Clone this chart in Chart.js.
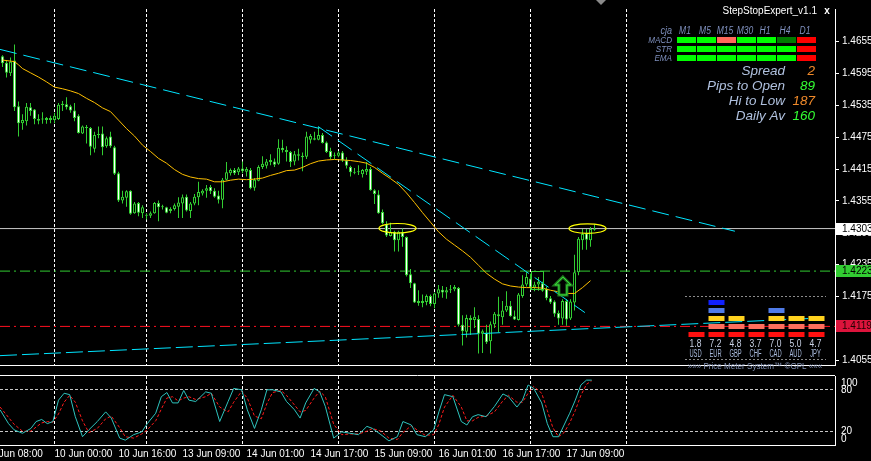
<!DOCTYPE html>
<html><head><meta charset="utf-8">
<script src="https://cdn.jsdelivr.net/npm/chart.js@4.4.1/dist/chart.umd.min.js"></script>
<style>
html,body{margin:0;padding:0;background:#000;overflow:hidden;}
#wrap{position:relative;width:871px;height:461px;background:#000;}
#main{position:absolute;left:0;top:0;}
#osc{position:absolute;left:0;top:374px;}
</style></head><body>
<div id="wrap">
<canvas id="main" width="871" height="374"></canvas>
<canvas id="osc" width="871" height="87"></canvas>
</div>
<script>
// ---------- DATA ----------
const opens = [1.4627,1.4615,1.4595,1.4619,1.4533,1.4501,1.4505,1.4531,1.4527,1.4509,1.4509,1.4507,1.4507,1.4507,1.4509,1.4538,1.4537,1.4533,1.4525,1.4515,
1.4482,1.4494,1.4492,1.4453,1.4479,1.4482,1.4458,1.4476,1.4456,1.4407,1.4356,1.4361,1.4374,1.4332,1.4351,1.4332,1.4328,1.4327,1.4332,1.4351,
1.4345,1.4343,1.4336,1.4340,1.4344,1.4350,1.4363,1.4336,1.4350,1.4362,1.4369,1.4374,1.4381,1.4374,1.4365,1.4357,1.4395,1.4407,1.4413,1.4409,
1.4416,1.4410,1.4413,1.4380,1.4393,1.4419,1.4421,1.4428,1.4429,1.4425,1.4455,1.4451,1.4447,1.4429,1.4443,1.4440,1.4438,1.4470,1.4473,1.4470,
1.4479,1.4465,1.4449,1.4442,1.4440,1.4446,1.4431,1.4419,1.4410,1.4409,1.4405,1.4410,1.4415,1.4375,1.4367,1.4334,1.4311,1.4289,1.4297,1.4281,
1.4296,1.4287,1.4217,1.4200,1.4163,1.4167,1.4165,1.4176,1.4161,1.4181,1.4188,1.4183,1.4187,1.4189,1.4191,1.4122,1.4109,1.4135,1.4131,1.4133,
1.4105,1.4107,1.4091,1.4123,1.4142,1.4136,1.4149,1.4158,1.4138,1.4131,1.4176,1.4198,1.4209,1.4192,1.4198,1.4200,1.4190,1.4172,1.4166,1.4144,
1.4134,1.4167,1.4134,1.4164,1.4221,1.4281,1.4294,1.4281,1.4301];
const highs = [1.4629,1.4620,1.4625,1.4649,1.4542,1.4518,1.4539,1.4539,1.4528,1.4518,1.4522,1.4513,1.4515,1.4521,1.4539,1.4543,1.4550,1.4536,1.4539,1.4518,
1.4497,1.4498,1.4494,1.4485,1.4495,1.4495,1.4476,1.4485,1.4459,1.4410,1.4374,1.4375,1.4375,1.4353,1.4353,1.4347,1.4332,1.4335,1.4353,1.4356,
1.4348,1.4344,1.4343,1.4350,1.4362,1.4367,1.4367,1.4353,1.4368,1.4391,1.4377,1.4385,1.4385,1.4379,1.4374,1.4398,1.4428,1.4416,1.4417,1.4419,
1.4429,1.4419,1.4417,1.4398,1.4422,1.4439,1.4434,1.4443,1.4435,1.4471,1.4470,1.4458,1.4449,1.4449,1.4453,1.4446,1.4485,1.4481,1.4485,1.4494,
1.4483,1.4467,1.4455,1.4446,1.4449,1.4449,1.4437,1.4421,1.4417,1.4422,1.4415,1.4428,1.4419,1.4377,1.4375,1.4339,1.4317,1.4314,1.4299,1.4299,
1.4303,1.4288,1.4227,1.4201,1.4187,1.4179,1.4179,1.4179,1.4183,1.4197,1.4195,1.4193,1.4197,1.4197,1.4193,1.4140,1.4141,1.4140,1.4155,1.4140,
1.4113,1.4122,1.4128,1.4146,1.4175,1.4167,1.4185,1.4167,1.4149,1.4182,1.4215,1.4221,1.4218,1.4203,1.4212,1.4203,1.4194,1.4176,1.4168,1.4149,
1.4170,1.4170,1.4170,1.4254,1.4287,1.4302,1.4302,1.4306,1.4311];
const lows = [1.4607,1.4587,1.4590,1.4524,1.4476,1.4489,1.4497,1.4515,1.4499,1.4499,1.4500,1.4500,1.4501,1.4501,1.4507,1.4524,1.4527,1.4521,1.4505,1.4482,
1.4481,1.4463,1.4441,1.4446,1.4473,1.4441,1.4455,1.4455,1.4404,1.4353,1.4350,1.4344,1.4329,1.4331,1.4326,1.4323,1.4320,1.4323,1.4331,1.4317,
1.4339,1.4332,1.4332,1.4337,1.4323,1.4323,1.4335,1.4323,1.4347,1.4347,1.4365,1.4361,1.4368,1.4361,1.4350,1.4341,1.4394,1.4403,1.4404,1.4404,
1.4407,1.4401,1.4377,1.4374,1.4392,1.4415,1.4416,1.4422,1.4419,1.4423,1.4446,1.4429,1.4419,1.4422,1.4431,1.4411,1.4434,1.4463,1.4469,1.4469,
1.4463,1.4445,1.4434,1.4434,1.4437,1.4428,1.4416,1.4401,1.4405,1.4404,1.4399,1.4404,1.4374,1.4349,1.4331,1.4311,1.4287,1.4288,1.4260,1.4260,
1.4269,1.4213,1.4191,1.4163,1.4158,1.4155,1.4159,1.4157,1.4153,1.4173,1.4173,1.4171,1.4182,1.4185,1.4119,1.4083,1.4098,1.4103,1.4116,1.4068,
1.4069,1.4086,1.4068,1.4116,1.4108,1.4122,1.4146,1.4137,1.4131,1.4130,1.4173,1.4194,1.4188,1.4185,1.4186,1.4184,1.4168,1.4161,1.4137,1.4122,
1.4122,1.4120,1.4131,1.4149,1.4215,1.4263,1.4263,1.4269,1.4299];
const closes = [1.4614,1.4596,1.4617,1.4531,1.4501,1.4507,1.4532,1.4524,1.4509,1.4506,1.4508,1.4511,1.4511,1.4515,1.4536,1.4535,1.4531,1.4525,1.4511,1.4483,
1.4495,1.4492,1.4457,1.4479,1.4481,1.4456,1.4473,1.4458,1.4406,1.4356,1.4363,1.4373,1.4331,1.4350,1.4333,1.4343,1.4327,1.4332,1.4351,1.4343,
1.4343,1.4333,1.4340,1.4347,1.4352,1.4362,1.4337,1.4350,1.4363,1.4372,1.4374,1.4379,1.4373,1.4363,1.4357,1.4395,1.4409,1.4413,1.4407,1.4416,
1.4411,1.4415,1.4379,1.4395,1.4419,1.4425,1.4429,1.4432,1.4423,1.4455,1.4451,1.4447,1.4428,1.4443,1.4440,1.4437,1.4476,1.4477,1.4470,1.4479,
1.4464,1.4447,1.4437,1.4440,1.4446,1.4431,1.4421,1.4409,1.4408,1.4410,1.4413,1.4415,1.4375,1.4368,1.4332,1.4313,1.4290,1.4297,1.4281,1.4297,
1.4287,1.4215,1.4200,1.4164,1.4167,1.4163,1.4176,1.4161,1.4181,1.4189,1.4183,1.4187,1.4189,1.4193,1.4122,1.4110,1.4135,1.4131,1.4137,1.4105,
1.4110,1.4089,1.4123,1.4143,1.4138,1.4149,1.4158,1.4138,1.4132,1.4179,1.4198,1.4212,1.4192,1.4198,1.4203,1.4186,1.4172,1.4164,1.4143,1.4134,
1.4167,1.4132,1.4166,1.4221,1.4284,1.4293,1.4282,1.4302,1.4303];

// moving average
const maIdx = [0,2,3,4,5,7,9,11,13,15,17,19,21,23,25,27,29,31,33,35,37,39,41,43,45,47,49,51,53,55,57,59,61,63,65,67,69,71,73,75,
77,79,81,83,85,87,89,91,93,95,97,99,101,103,105,107,109,111,113,115,117,119,121,123,125,127,129,131,133,135,137,139,141,143,145,147];
const maVal = [1.4620,1.4618,1.4617,1.4611,1.4604,1.4596,1.4588,1.4579,1.4569,1.4566,1.4562,1.4557,1.4548,1.4540,1.4530,1.4523,1.4507,1.4491,1.4477,1.4460,
1.4448,1.4435,1.4426,1.4414,1.4405,1.4400,1.4397,1.4396,1.4391,1.4391,1.4394,1.4396,1.4395,1.4396,1.4398,1.4403,1.4407,1.4412,1.4413,1.4418,
1.4425,1.4430,1.4432,1.4433,1.4432,1.4431,1.4429,1.4426,1.4418,1.4407,1.4397,1.4386,1.4370,1.4352,1.4333,1.4315,1.4297,1.4283,1.4272,1.4261,
1.4249,1.4234,1.4219,1.4208,1.4199,1.4195,1.4193,1.4192,1.4192,1.4191,1.4187,1.4184,1.4181,1.4181,1.4192,1.4205];

// trend lines
const trendUpperIdx = [-0.625, 183.1];  const trendUpperVal = [1.4640, 1.4298];
const trendMidIdx   = [78.9, 145.6];    const trendMidVal   = [1.4495, 1.4145];
const trendLowIdx   = [-0.625, 205.1];  const trendLowVal   = [1.4064, 1.4135];

// horizontal levels
const bidLevel = 1.4303, greenLevel = 1.4223, redLevel = 1.4119;

// small rectangle object (bar index range, price range)
const boxIdx = [132, 135]; const boxVal = [1.4223, 1.4190];

// price axis ticks
const priceTicks = [1.4655,1.4595,1.4535,1.4475,1.4415,1.4355,1.4295,1.4235,1.4175,1.4115,1.4055];

// time axis
const timeTickIdx  = [-3,13,29,45,61,77,93,109,125,141];
const timeTickText = ['9 Jun 08:00','10 Jun 00:00','10 Jun 16:00','13 Jun 09:00','14 Jun 01:00','14 Jun 17:00','15 Jun 09:00','16 Jun 01:00','16 Jun 17:00','17 Jun 09:00'];
const daySepIdx = [13,36,60,84,108,132,156];

// stochastic
const stochIdx = [-0.6,1.5,2.9,5,7.1,8.4,9.8,11.2,12.6,14,15.4,16.8,18.2,20,21.6,23.7,25.8,27.2,29.3,30.7,32.8,34.8,36.2,38.3,39.7,41.1,42.5,43.9,45.3,46.6,
48.3,50.8,52.2,54.3,56.4,57.8,59.8,61.2,63,64.7,66.1,67.5,69.6,71,73,74.4,75.8,77.9,79.3,80.7,82.8,84.8,86.9,89,91.1,92.5,94.6,96.6,98.7,100.1,
102.2,103.6,105.7,107.8,109.1,110.5,112.6,114.7,116.1,117.5,118.9,120.9,123,125.1,126.5,128.6,130,131.4,132.8,134.8,136.2,137.6,139,140.4,141.8,143.2,144.6,146,147.3];
const stochMain = [51,31,22,17,24,34,37,31,34,65,75,73,41,12,22,34,48,39,10,7,15,19,31,46,70,76,61,61,79,65,
63,77,75,34,63,82,80,51,24,51,80,80,77,63,51,39,61,82,77,56,10,19,17,15,27,24,15,6,12,34,
29,15,12,22,48,73,70,34,29,41,44,41,56,74,70,55,65,87,82,61,31,12,12,29,46,65,87,94,94];
const stochSignal = [55,40,30,20,20,26,32,34,33,45,62,72,62,35,18,24,38,42,25,12,10,16,22,35,52,68,70,64,68,70,
66,70,75,55,48,62,78,68,42,38,60,76,79,72,58,48,50,68,78,70,30,15,16,16,20,24,20,10,8,18,
28,22,14,15,30,55,72,55,35,35,40,42,48,64,72,62,62,75,85,75,50,25,12,18,32,50,72,88,93];
const stochLevels = [80,20];
const stochLabels = [['100',100],['80',80],['20',20],['0',0]];

// expert panel
const tfLabels = ['M1','M5','M15','M30','H1','H4','D1'];
const rowNames = ['MACD','STR','EMA'];
const macdRow = [1,1,-1,1,1,2,-2];
const strRow  = [1,1,1,1,1,1,-2];
const emaRow  = [1,1,1,1,1,1,-2];
const infoLabels = ['Spread','Pips to Open','Hi to Low','Daily Av'];
const infoValues = ['2','89','187','160'];
const infoColors = ['#F08A2A','#33FF33','#F08A2A','#33FF33'];

// price meter
const meterCur = ['USD','EUR','GBP','CHF','CAD','AUD','JPY'];
const meterVal = [1.8,7.2,4.8,3.7,7.0,5.0,4.7];
const meterBlocks = [1,5,3,2,4,3,3];

// ---------- CONSTANTS ----------
const X_MIN = -0.625, X_MAX = 208.125;
const P_MIN = 1.40464, P_MAX = 1.4716;
const GREEN = '#32CD32';
const FONT = '"Liberation Sans", Arial, sans-serif';

const pts = (xs, ys) => xs.map((x,i)=>({x, y: ys[i]}));
const hline = v => [{x:X_MIN,y:v},{x:X_MAX,y:v}];

function narrowText(ctx, text, x, y, align, sx){
  ctx.save(); ctx.translate(x,y); ctx.scale(sx,1); ctx.textAlign=align; ctx.fillText(text,0,0); ctx.restore();
}

const overlayMain = {
  id:'overlayMain',
  beforeDatasetsDraw(chart){
    const {ctx, chartArea:a, scales:{x}} = chart;
    ctx.save(); ctx.strokeStyle='#ffffff'; ctx.lineWidth=1; ctx.setLineDash([3,2]);
    daySepIdx.forEach(v=>{ const px=Math.round(x.getPixelForValue(v)-0.5)+0.5; ctx.beginPath(); ctx.moveTo(px,a.top); ctx.lineTo(px,a.bottom); ctx.stroke(); });
    ctx.restore();
  },
  afterDatasetsDraw(chart){
    const {ctx, scales:{x,y}} = chart;
    ctx.save();
    // rectangle object
    ctx.strokeStyle=GREEN; ctx.lineWidth=1;
    const bx0=Math.round(x.getPixelForValue(boxIdx[0]))+0.5, bx1=Math.round(x.getPixelForValue(boxIdx[1]))+0.5;
    const by0=Math.round(y.getPixelForValue(boxVal[0]))+0.5, by1=Math.round(y.getPixelForValue(boxVal[1]))+0.5;
    ctx.strokeRect(bx0,by0,bx1-bx0,by1-by0);
    // ellipses
    ctx.strokeStyle='#FFFF00'; ctx.lineWidth=1.2;
    [[98.75,bidLevel+0.00005],[146.25,bidLevel]].forEach(([i,v])=>{
      const cx=x.getPixelForValue(i), cy=y.getPixelForValue(v);
      ctx.beginPath(); ctx.ellipse(cx,cy,18.5,4.8,0,0,Math.PI*2); ctx.stroke();
    });
    // arrow
    const ax = x.getPixelForValue(140.1), ay = y.getPixelForValue(1.4212);
    ctx.beginPath();
    ctx.moveTo(ax,ay); ctx.lineTo(ax+8,ay+8); ctx.lineTo(ax+4,ay+8); ctx.lineTo(ax+4,ay+18);
    ctx.lineTo(ax-4,ay+18); ctx.lineTo(ax-4,ay+8); ctx.lineTo(ax-8,ay+8); ctx.closePath();
    ctx.fillStyle='#000'; ctx.fill();
    ctx.lineWidth=3; ctx.strokeStyle='#1E7A1E'; ctx.stroke();
    ctx.lineWidth=1; ctx.strokeStyle='#3CE03C'; ctx.stroke();
    ctx.restore();
  },
  afterDraw(chart){
    const {ctx, scales:{y}} = chart;
    ctx.save();
    [[bidLevel,'#FFFFFF','#000000'],[greenLevel,GREEN,'#000000'],[redLevel,'#DC143C','#200000']].forEach(([v,bg,fg])=>{
      const py=Math.round(y.getPixelForValue(v));
      ctx.fillStyle=bg; ctx.fillRect(836,py-6,35,12);
      ctx.fillStyle=fg; ctx.font='10px '+FONT; ctx.textBaseline='middle'; ctx.textAlign='left';
      ctx.fillText(v.toFixed(4),842,py+0.5);
    });
    ctx.fillStyle='#8a8a8a'; ctx.beginPath(); ctx.moveTo(596,0); ctx.lineTo(606,0); ctx.lineTo(601,5); ctx.closePath(); ctx.fill();
    // expert panel
    ctx.textBaseline='middle';
    ctx.fillStyle='#FFFFFF'; ctx.font='10px '+FONT; ctx.textAlign='right';
    ctx.fillText('StepStopExpert_v1.1',817,11);
    ctx.font='bold 10px '+FONT; ctx.textAlign='center'; ctx.fillText('x',827,11);
    ctx.font='italic 10px '+FONT; ctx.fillStyle='#7F90BE';
    narrowText(ctx,'cja',672,31,'right',0.9);
    tfLabels.forEach((t,k)=>narrowText(ctx,t,685+20*k,31,'center',0.85));
    ctx.font='italic 9px '+FONT;
    rowNames.forEach((t,r)=>narrowText(ctx,t,672,40+9*r,'right',0.9));
    const cmap = {'1':'#00FF00','2':'#007A00','-1':'#FF6A5A','-2':'#FF0000'};
    [macdRow,strRow,emaRow].forEach((row,r)=>row.forEach((s,k)=>{ ctx.fillStyle=cmap[String(s)]; ctx.fillRect(677+20*k,37+9*r,19,6); }));
    ctx.font='italic 13.5px '+FONT;
    infoLabels.forEach((t,r)=>{
      ctx.textAlign='right'; ctx.fillStyle='#AFC0DE'; ctx.fillText(t,785,71+15*r);
      ctx.fillStyle=infoColors[r]; ctx.fillText(infoValues[r],815,71+15*r);
    });
    // price meter
    ctx.strokeStyle='#8c8c8c'; ctx.lineWidth=1; ctx.setLineDash([2,2]);
    [296.5,359.5].forEach(yy=>{ ctx.beginPath(); ctx.moveTo(685,yy); ctx.lineTo(826,yy); ctx.stroke(); });
    ctx.setLineDash([]);
    const blockCols = ['#FF1010','#FF6E5C','#FFD21E','#4F7BE8','#1020FF'];
    meterCur.forEach((c,k)=>{
      const cx = 696.5+20*k;
      for(let j=0;j<meterBlocks[k];j++){ ctx.fillStyle=blockCols[j]; ctx.fillRect(cx-8,332-8*j,16,5); }
      ctx.font='10px '+FONT;
      ctx.fillStyle='#C9D2E6'; narrowText(ctx,meterVal[k].toFixed(1),cx-1,344,'center',0.85);
      ctx.fillStyle='#A7B8DA'; narrowText(ctx,c,cx-1,354,'center',0.58);
    });
    ctx.font='9px '+FONT; ctx.fillStyle='#8392B4';
    narrowText(ctx,'\u00BB\u00BB\u00BB Price Meter System\u2122 \u00A9GPL \u00AB\u00AB\u00AB',755,367,'center',0.9);
    ctx.restore();
  }
};

new Chart(document.getElementById('main'), {
  type:'line',
  data:{ datasets:[
    {type:'line', data:pts(trendUpperIdx,trendUpperVal), borderColor:'#00E5FF', borderWidth:1, borderDash:[17,7], pointRadius:0, order:1},
    {type:'line', data:pts(trendMidIdx,trendMidVal), borderColor:'#00E5FF', borderWidth:1, borderDash:[17,7], pointRadius:0, order:1},
    {type:'line', data:pts(trendLowIdx,trendLowVal), borderColor:'#00E5FF', borderWidth:1, borderDash:[17,5], pointRadius:0, order:1},
    {type:'line', data:pts(maIdx,maVal), borderColor:'#FFC000', borderWidth:1, pointRadius:0, tension:0, order:2},
    {type:'bar', data:opens.map((o,i)=>({x:i, y:[Math.min(o,closes[i]), Math.max(o,closes[i])]})),
      backgroundColor:opens.map((o,i)=> closes[i]<o ? '#FFFFFF' : '#000000'), borderColor:GREEN, borderWidth:1,
      borderSkipped:false, barThickness:3, minBarLength:1, grouped:false, inflateAmount:0, order:3},
    {type:'bar', data:opens.map((o,i)=>({x:i, y:[lows[i], highs[i]]})), backgroundColor:GREEN, borderWidth:0,
      barThickness:1, grouped:false, inflateAmount:0, order:4},
    {type:'line', data:hline(bidLevel), borderColor:'#C8C8C8', borderWidth:1, pointRadius:0, order:5},
    {type:'line', data:hline(greenLevel), borderColor:GREEN, borderWidth:1, borderDash:[10,4,2,4], pointRadius:0, order:5},
    {type:'line', data:hline(redLevel), borderColor:'#FF1020', borderWidth:1, borderDash:[10,4,2,4], pointRadius:0, order:5}
  ]},
  options:{
    responsive:false, animation:false, devicePixelRatio:1,
    layout:{padding:0},
    plugins:{legend:{display:false}, tooltip:{enabled:false}},
    scales:{
      x:{type:'linear', min:X_MIN, max:X_MAX, offset:false, bounds:'data', ticks:{display:false}, grid:{display:false, drawTicks:false, offset:false},
         border:{display:true, color:'#FFFFFF'}, afterFit:s=>{s.height=2; s.paddingLeft=0; s.paddingRight=0;}},
      y:{type:'linear', position:'right', min:P_MIN, max:P_MAX, beginAtZero:false,
         afterBuildTicks:s=>{ s.ticks = priceTicks.map(v=>({value:v})); },
         ticks:{color:'#FFFFFF', font:{family:'Liberation Sans', size:10}, padding:3, autoSkip:false, callback:v=>Number(v).toFixed(4)},
         grid:{drawOnChartArea:false, drawTicks:true, tickLength:4, color:'#FFFFFF'},
         border:{display:true, color:'#FFFFFF'}, afterFit:s=>{s.width=36;}}
    }
  },
  plugins:[overlayMain]
});

const overlayOsc = {
  id:'overlayOsc',
  beforeDatasetsDraw(chart){
    const {ctx, chartArea:a, scales:{x,y}} = chart;
    ctx.save(); ctx.lineWidth=1; ctx.setLineDash([3,2]);
    ctx.strokeStyle='#FFFFFF';
    daySepIdx.forEach(v=>{ const px=Math.round(x.getPixelForValue(v)-0.5)+0.5; ctx.beginPath(); ctx.moveTo(px,a.top); ctx.lineTo(px,a.bottom); ctx.stroke(); });
    ctx.strokeStyle='#C8C8C8';
    stochLevels.forEach(v=>{ const py=Math.round(y.getPixelForValue(v)-0.5)+0.5; ctx.beginPath(); ctx.moveTo(a.left,py); ctx.lineTo(a.right,py); ctx.stroke(); });
    ctx.restore();
  },
  afterDraw(chart){
    const {ctx, chartArea:a, scales:{y}} = chart;
    ctx.save();
    ctx.strokeStyle='#FFFFFF'; ctx.lineWidth=1;
    ctx.beginPath(); ctx.moveTo(0,a.top-0.5); ctx.lineTo(a.right,a.top-0.5); ctx.stroke();
    ctx.fillStyle='#FFFFFF'; ctx.font='10px '+FONT; ctx.textAlign='left'; ctx.textBaseline='middle';
    const off = {100:7, 80:0, 20:0, 0:-6};
    stochLabels.forEach(([t,v])=>ctx.fillText(t,841,y.getPixelForValue(v)+off[v]));
    ctx.restore();
  }
};

new Chart(document.getElementById('osc'), {
  type:'line',
  data:{ datasets:[
    {data:pts(stochIdx,stochMain), borderColor:'#2EC4BE', borderWidth:1, pointRadius:0, tension:0, order:1},
    {data:pts(stochIdx,stochSignal), borderColor:'#FF1A1A', borderWidth:1, borderDash:[3,2], pointRadius:0, tension:0, order:2}
  ]},
  options:{
    responsive:false, animation:false, devicePixelRatio:1,
    layout:{padding:{top:2}},
    plugins:{legend:{display:false}, tooltip:{enabled:false}},
    scales:{
      x:{type:'linear', min:X_MIN, max:X_MAX, offset:false,
         afterBuildTicks:s=>{ s.ticks = timeTickIdx.map(v=>({value:v})); },
         ticks:{color:'#FFFFFF', font:{family:'Liberation Sans', size:10}, align:'start', padding:3, autoSkip:false, maxRotation:0,
                callback:(v,i)=>timeTickText[i]},
         grid:{display:false, drawTicks:false}, border:{display:true, color:'#FFFFFF'},
         afterFit:s=>{s.height=16; s.paddingLeft=0; s.paddingRight=0;}},
      y:{type:'linear', position:'right', min:0, max:100, ticks:{display:false},
         grid:{drawOnChartArea:false, drawTicks:false}, border:{display:true, color:'#FFFFFF'}, afterFit:s=>{s.width=36;}}
    }
  },
  plugins:[overlayOsc]
});
</script>
</body></html>
